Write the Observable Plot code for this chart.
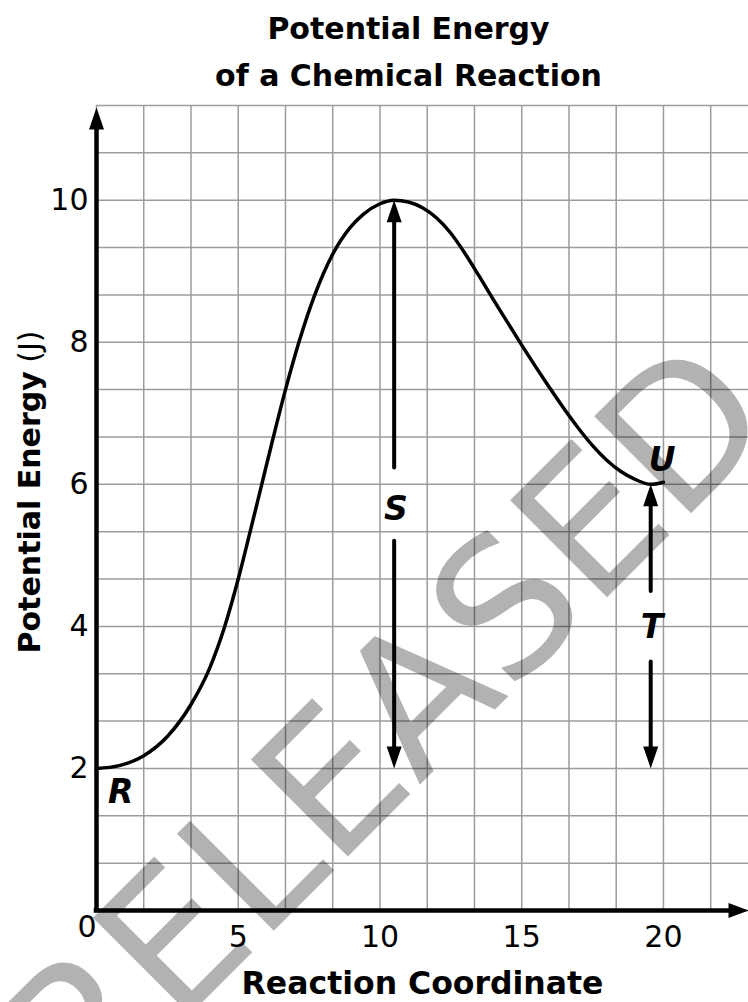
<!DOCTYPE html>
<html><head><meta charset="utf-8">
<script src="https://cdn.jsdelivr.net/npm/d3@7"></script>
<script src="https://cdn.jsdelivr.net/npm/@observablehq/plot@0.6"></script>
<style>body{margin:0;background:#fff;} svg{display:block}</style>
</head><body><div id="chart"></div>
<script>
// ---- data ----
const titleText = "Potential Energy\nof a Chemical Reaction";
const xLabel = "Reaction Coordinate";
const yLabelBold = "Potential Energy";
const yLabelUnit = "(J)";

const xTicks = [5, 10, 15, 20];
const yTicks = [2, 4, 6, 8, 10];
const originTick = [0];

// potential energy curve
const curveX = [0, 0.8, 1.667, 2.5, 3.333, 4.0, 4.5, 5.0, 5.42, 5.83, 6.24, 6.667, 7.14, 7.7, 8.333, 8.96, 9.41, 10.0, 10.5,
                11.0, 11.5, 12.0, 12.5, 13.0, 13.5, 14.0, 14.5, 15.0, 15.5, 16.0, 16.5, 17.0, 17.5, 18.0, 18.5, 19.0, 19.55, 20.0];
const curveY = [2.0, 2.04, 2.18, 2.45, 2.9, 3.42, 3.97, 4.667, 5.333, 6.0, 6.667, 7.333, 8.0, 8.667, 9.24, 9.62, 9.8, 9.95, 10.0,
                9.975, 9.895, 9.75, 9.535, 9.25, 8.93, 8.6, 8.28, 7.96, 7.65, 7.35, 7.06, 6.79, 6.545, 6.34, 6.18, 6.07, 6.0, 6.03];

// double-headed arrows S and T (with a gap for the letter)
const arrowNames = ["S", "T"];
const arrowXs = [10.5, 19.55];
const arrowTops = [10, 6];
const arrowBottoms = [2, 2];
const gapLows = [5.2, 3.5];
const gapHighs = [6.23, 4.49];

// point labels
const labelNames = ["R", "S", "T", "U"];
const labelXs = [0.85, 10.56, 19.6, 19.95];
const labelYs = [1.66, 5.65, 3.99, 6.33];

// axis extents
const xMax = 23;
const yMax = 34 / 3;
const yAxisTip = 11.305;

// watermark
const watermarkText = ["RELEASED"];
const watermarkX = [11.85];
const watermarkY = [1.95];

// ---- derived tables ----
const curve = curveX.map((x, i) => ({x, y: curveY[i]}));
const inset = 0.2;
const segments = [];
arrowNames.forEach((n, i) => {
  segments.push({x: arrowXs[i], y1: arrowBottoms[i] + inset, y2: gapLows[i]});
  segments.push({x: arrowXs[i], y1: gapHighs[i], y2: arrowTops[i] - inset});
});
const upHeads = arrowNames.map((n, i) => ({x: arrowXs[i], y: arrowTops[i]})).concat([{x: 0, y: yAxisTip}]);
const downHeads = arrowNames.map((n, i) => ({x: arrowXs[i], y: arrowBottoms[i]}));
const rightHeads = [{x: xMax, y: 0}];
const labels = labelNames.map((t, i) => ({t, x: labelXs[i], y: labelYs[i]}));
const gridX = d3.range(14).map(i => i * 5 / 3);
const gridY = d3.range(18).map(i => i * 2 / 3);

const HL = 22, HW = 7.5;
const symUp = {draw(c) { c.moveTo(0, 0); c.lineTo(-HW, HL); c.lineTo(HW, HL); c.closePath(); }};
const symDown = {draw(c) { c.moveTo(0, 0); c.lineTo(-HW, -HL); c.lineTo(HW, -HL); c.closePath(); }};
const symRight = {draw(c) { c.moveTo(0, 0); c.lineTo(-HL + 2, -HW); c.lineTo(-HL + 2, HW); c.closePath(); }};

const font = "DejaVu Sans";

const chart = Plot.plot({
  width: 748,
  height: 1002,
  marginLeft: 96,
  marginRight: 0,
  marginTop: 105,
  marginBottom: 92,
  x: {domain: [0, xMax], axis: null},
  y: {domain: [0, yMax], axis: null},
  style: {fontFamily: font, background: "white", overflow: "visible"},
  marks: [
    // grid
    Plot.ruleX(gridX, {x: d => d, y1: () => 0, y2: () => yMax, stroke: "#9c9c9c", strokeWidth: 1.5}),
    Plot.ruleY(gridY, {y: d => d, x1: () => 0, x2: () => xMax, stroke: "#9c9c9c", strokeWidth: 1.5}),
    // axes
    Plot.ruleX([0], {x: d => d, y1: () => -0.032, y2: () => yAxisTip - 0.2, stroke: "black", strokeWidth: 4.5}),
    Plot.ruleY([0], {y: d => d, x1: () => -0.08, x2: () => xMax - 0.4, stroke: "black", strokeWidth: 4.5}),
    Plot.dot(rightHeads, {x: "x", y: "y", symbol: symRight, fill: "black", stroke: "none"}),
    // curve
    Plot.line(curve, {x: "x", y: "y", curve: "monotone-x", stroke: "black", strokeWidth: 3.5}),
    // arrows
    Plot.ruleX(segments, {x: "x", y1: "y1", y2: "y2", stroke: "black", strokeWidth: 4, strokeLinecap: "round"}),
    Plot.dot(upHeads, {x: "x", y: "y", symbol: symUp, fill: "black", stroke: "none"}),
    Plot.dot(downHeads, {x: "x", y: "y", symbol: symDown, fill: "black", stroke: "none"}),
    // point labels
    Plot.text(labels, {x: "x", y: "y", text: "t", fontSize: 33, fontWeight: "bold", fontStyle: "italic", textAnchor: "middle", lineAnchor: "middle", fill: "black"}),
    // tick labels
    Plot.text(yTicks, {x: () => 0, y: d => d, text: d => String(d), fontSize: 30, textAnchor: "end", lineAnchor: "middle", dx: -8, fill: "black"}),
    Plot.text(xTicks, {x: d => d, y: () => 0, text: d => String(d), fontSize: 30, textAnchor: "middle", lineAnchor: "top", dy: 15, fill: "black"}),
    Plot.text(originTick, {x: d => d, y: () => 0, text: d => String(d), fontSize: 30, textAnchor: "middle", lineAnchor: "top", dx: -9.5, dy: 5, fill: "black"}),
    // axis labels
    Plot.text([xLabel], {frameAnchor: "bottom", text: d => d, fontSize: 31.5, fontWeight: "bold", textAnchor: "middle", lineAnchor: "bottom", dy: 83, fill: "black"}),
    Plot.text([yLabelBold], {frameAnchor: "left", text: d => d, fontSize: 30, fontWeight: "bold", rotate: -90, textAnchor: "start", lineAnchor: "bottom", dx: -57, dy: 145.5, fill: "black"}),
    Plot.text([yLabelUnit], {frameAnchor: "left", text: d => d, fontSize: 30, rotate: -90, textAnchor: "end", lineAnchor: "bottom", dx: -57, dy: -177.5, fill: "black"}),
    // title
    Plot.text([titleText], {frameAnchor: "top", text: d => d, fontSize: 30, fontWeight: "bold", textAnchor: "middle", lineAnchor: "bottom", lineHeight: 47 / 30, dx: -14, dy: -20, fill: "black"}),
    // watermark
    Plot.text(watermarkText, {x: (d, i) => watermarkX[i], y: (d, i) => watermarkY[i], text: d => d, fontSize: 188, rotate: -45, textAnchor: "middle", lineAnchor: "bottom", fill: "black", fillOpacity: 0.3})
  ]
});
document.getElementById("chart").appendChild(chart);
</script></body></html>
